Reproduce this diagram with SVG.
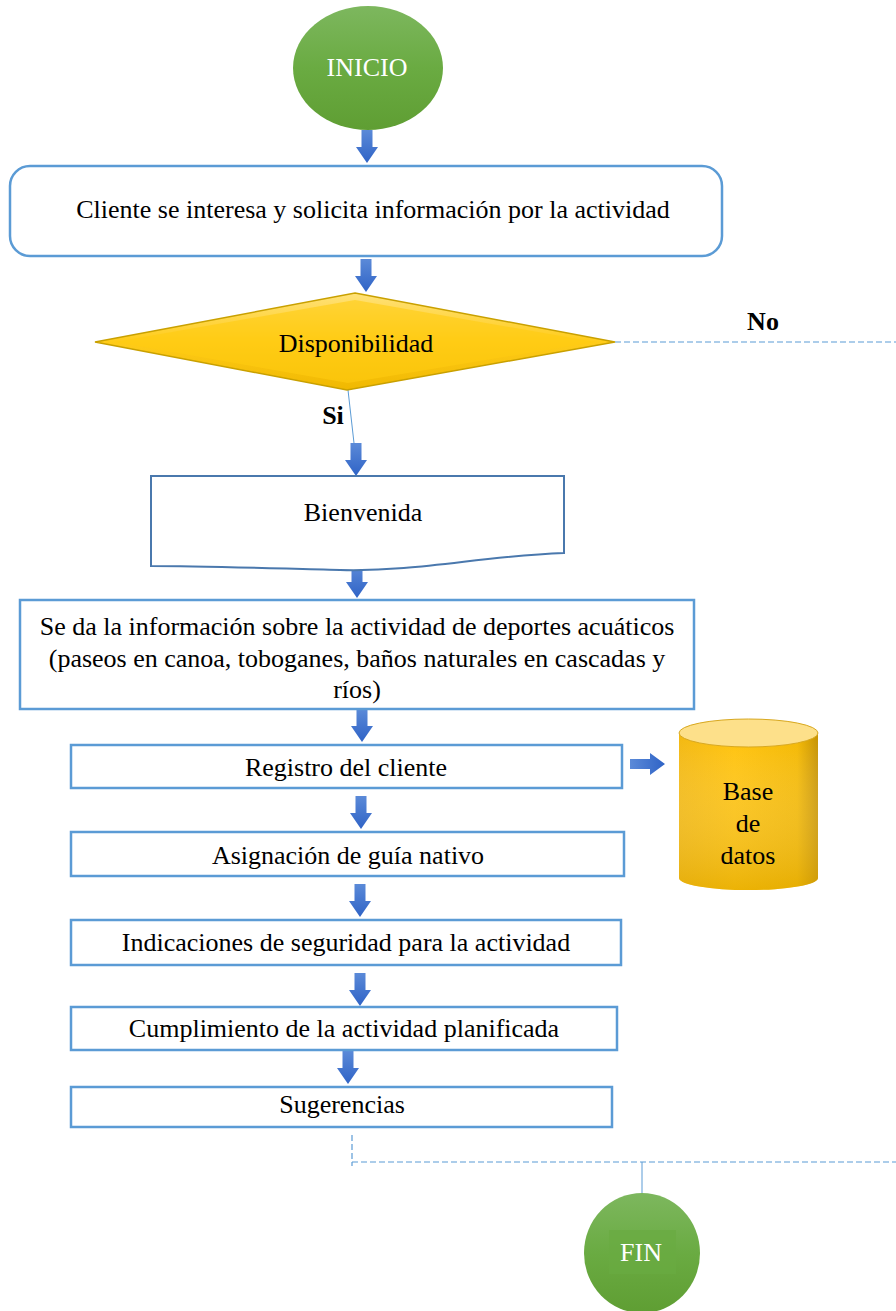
<svg xmlns="http://www.w3.org/2000/svg" xmlns:xlink="http://www.w3.org/1999/xlink" width="896" height="1311" viewBox="0 0 896 1311">
<defs>
<style>
.t{font-family:"Liberation Serif","Times New Roman",serif;font-size:26px;fill:#000;text-anchor:middle;dominant-baseline:central}
.w{font-family:"Liberation Serif","Times New Roman",serif;font-size:26px;fill:#fff;text-anchor:middle;dominant-baseline:central}
.b{font-family:"Liberation Serif","Times New Roman",serif;font-size:26px;font-weight:bold;fill:#000;text-anchor:middle;dominant-baseline:central}
.box{fill:#fff;stroke:#5b9bd5;stroke-width:2.5}
.dash{fill:none;stroke:#5b9bd5;stroke-width:1.2;stroke-dasharray:6 3}
.thin{fill:none;stroke:#5b9bd5;stroke-width:1}
</style>
<linearGradient id="green" x1="0" y1="0" x2="0" y2="1">
<stop offset="0" stop-color="#7db75e"/>
<stop offset="0.5" stop-color="#6aab42"/>
<stop offset="1" stop-color="#5f9e33"/>
</linearGradient>
<linearGradient id="gold" x1="0" y1="0" x2="0" y2="1">
<stop offset="0" stop-color="#ffe27a"/>
<stop offset="0.5" stop-color="#ffcc1a"/>
<stop offset="1" stop-color="#f0b800"/>
</linearGradient>
<linearGradient id="cyl" x1="0" y1="0" x2="1" y2="0">
<stop offset="0" stop-color="#f3b80f"/>
<stop offset="0.4" stop-color="#ffc20a"/>
<stop offset="0.85" stop-color="#f4b800"/>
<stop offset="1" stop-color="#c69200"/>
</linearGradient>
<linearGradient id="cylv" x1="0" y1="0" x2="0" y2="1">
<stop offset="0" stop-color="#ffffff" stop-opacity="0"/>
<stop offset="1" stop-color="#d9a300" stop-opacity="0.5"/>
</linearGradient>
<linearGradient id="arr" x1="0" y1="0" x2="0" y2="1">
<stop offset="0" stop-color="#5b8ad8"/>
<stop offset="1" stop-color="#2f63c6"/>
</linearGradient>
<linearGradient id="arrh" x1="0" y1="0" x2="1" y2="0">
<stop offset="0" stop-color="#5b8ad8"/>
<stop offset="1" stop-color="#2f63c6"/>
</linearGradient>
<path id="darr" d="M-5.5,0 H5.5 V17 H11 L0,33 L-11,17 H-5.5 Z" fill="url(#arr)"/>
</defs>

<g id="connectors">
<use href="#darr" x="367" y="130"/>
<use href="#darr" x="366" y="259"/>
<path class="thin" d="M348,390 L355,452"/>
<use href="#darr" x="356" y="443"/>
<use href="#darr" x="357" y="565"/>
<use href="#darr" x="362" y="709"/>
<path d="M630,759 H650 V753 L665,764 L650,775 V769 H630 Z" fill="url(#arrh)"/>
<use href="#darr" x="361" y="796"/>
<use href="#darr" x="360" y="884"/>
<use href="#darr" x="360" y="973"/>
<use href="#darr" x="348" y="1051"/>
<path class="dash" d="M615,342 H896"/>
<path class="dash" d="M352,1135 V1166 M352,1162 H896"/>
<path class="thin" d="M642,1162 V1195"/>
<text class="b" x="763" y="321">No</text>
<text class="b" x="333" y="415">Si</text>
</g>

<g id="inicio">
<ellipse cx="368" cy="68" rx="75" ry="62" fill="url(#green)"/>
<text class="w" x="367" y="67">INICIO</text>
</g>

<g id="cliente">
<rect class="box" x="10" y="166" width="712" height="90" rx="20"/>
<text class="t" x="373" y="209">Cliente se interesa y solicita información por la actividad</text>
</g>

<g id="disponibilidad">
<polygon points="355,293 615,342 347,390 95,342" fill="url(#gold)" stroke="#c9a000" stroke-width="1.5"/>
<polygon points="355,300 595,342 348,383 115,342" fill="#ffcc10" opacity="0.6"/>
<text class="t" x="356" y="343">Disponibilidad</text>
</g>

<g id="bienvenida">
<path d="M151,476 H564 V553 C480,556 420,572 340,570 C260,568 200,566 151,566 Z" fill="#fff" stroke="#4a78ad" stroke-width="2"/>
<text class="t" x="363" y="512">Bienvenida</text>
</g>

<g id="informacion">
<rect class="box" x="20" y="600" width="674" height="109"/>
<text class="t" x="357" y="626">Se da la información sobre la actividad de deportes acuáticos</text>
<text class="t" x="357" y="658">(paseos en canoa, toboganes, baños naturales en cascadas y</text>
<text class="t" x="357" y="689">ríos)</text>
</g>

<g id="registro">
<rect class="box" x="71" y="745" width="551" height="43"/>
<text class="t" x="346" y="767">Registro del cliente</text>
</g>

<g id="basedatos">
<path d="M679,733 V878 A69,12 0 0 0 818,878 V733 Z" fill="url(#cyl)"/>
<path d="M679,733 V878 A69,12 0 0 0 818,878 V733 Z" fill="url(#cylv)"/>
<ellipse cx="748.5" cy="733" rx="69.5" ry="14" fill="#fde08a" stroke="#d8a820" stroke-width="1"/>
<text class="t" x="748" y="791">Base</text>
<text class="t" x="748" y="823">de</text>
<text class="t" x="748" y="855">datos</text>
</g>

<g id="asignacion">
<rect class="box" x="71" y="832" width="553" height="44"/>
<text class="t" x="348" y="855">Asignación de guía nativo</text>
</g>

<g id="indicaciones">
<rect class="box" x="71" y="920" width="550" height="45"/>
<text class="t" x="346" y="942">Indicaciones de seguridad para la actividad</text>
</g>

<g id="cumplimiento">
<rect class="box" x="71" y="1007" width="546" height="43"/>
<text class="t" x="344" y="1028">Cumplimiento de la actividad planificada</text>
</g>

<g id="sugerencias">
<rect class="box" x="71" y="1087" width="541" height="40"/>
<text class="t" x="342" y="1104">Sugerencias</text>
</g>

<g id="fin">
<ellipse cx="642" cy="1253" rx="58" ry="60" fill="url(#green)"/>
<rect x="609" y="1230" width="67" height="44" fill="#6aab42" opacity="0.7"/>
<text class="w" x="641" y="1252">FIN</text>
</g>
</svg>
